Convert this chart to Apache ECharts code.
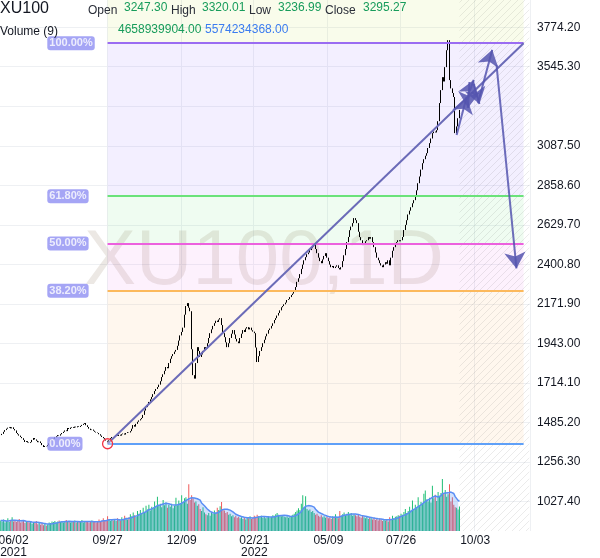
<!DOCTYPE html>
<html lang="en">
<head>
<meta charset="UTF-8">
<title>XU100, 1D</title>
<script src="https://cdn.jsdelivr.net/npm/echarts@6/dist/echarts.min.js"></script>
<style>
  html, body { margin: 0; padding: 0; background: #fff; }
  #chart { width: 600px; height: 558px; }
</style>
</head>
<body>
<div id="chart"></div>
<script>
// daily closes, bar 0 = first bar on the left
const closes = [
  1413, 1420, 1432, 1442, 1450, 1456, 1460, 1452, 1458, 1448,
  1440, 1425, 1418, 1410, 1402, 1395, 1385, 1373, 1378, 1370,
  1367, 1372, 1385, 1396, 1388, 1380, 1372, 1376, 1367, 1355,
  1344, 1350, 1348, 1356, 1365, 1378, 1386, 1392, 1400, 1406,
  1413, 1410, 1418, 1425, 1432, 1440, 1436, 1454, 1448, 1456,
  1460, 1455, 1462, 1458, 1464, 1460, 1466, 1472, 1478, 1483,
  1470, 1460, 1450, 1442, 1445, 1438, 1432, 1428, 1425, 1418,
  1410, 1402, 1395, 1388, 1380, 1370, 1385, 1395, 1402, 1398,
  1405, 1412, 1408, 1415, 1410, 1418, 1422, 1416, 1425, 1430,
  1428, 1436, 1450, 1471, 1462, 1478, 1490, 1498, 1505, 1512,
  1530, 1555, 1575, 1590, 1605, 1620, 1634, 1650, 1668, 1680,
  1691, 1705, 1725, 1749, 1765, 1785, 1807, 1800, 1830, 1855,
  1870, 1882, 1896, 1906, 1930, 1960, 1990, 2010, 2035, 2110,
  2160, 2177, 2150, 2130, 1910, 1760, 1740, 1830, 1922, 1900,
  1865, 1880, 1900, 1922, 1915, 1945, 1975, 2003, 2025, 2045,
  2061, 2075, 2068, 2082, 2090, 2050, 2003, 1980, 1950, 1922,
  1945, 1975, 2000, 2021, 1995, 1970, 1955, 1945, 1975, 2000,
  2021, 2010, 2030, 2038, 2025, 2035, 2020, 2012, 2003, 1920,
  1836, 1870, 1900, 1922, 1945, 1965, 1985, 2000, 2021, 2030,
  2045, 2060, 2079, 2090, 2105, 2120, 2135, 2153, 2160, 2170,
  2180, 2195, 2200, 2212, 2224, 2232, 2241, 2270, 2300, 2321,
  2345, 2375, 2400, 2425, 2443, 2460, 2470, 2484, 2495, 2505,
  2513, 2490, 2466, 2440, 2420, 2408, 2430, 2450, 2466, 2440,
  2420, 2400, 2385, 2392, 2380, 2388, 2396, 2380, 2372, 2385,
  2420, 2454, 2490, 2530, 2560, 2599, 2620, 2640, 2669, 2657,
  2640, 2590, 2559, 2541, 2513, 2525, 2535, 2541, 2559, 2550,
  2559, 2530, 2501, 2470, 2440, 2425, 2408, 2395, 2385, 2400,
  2414, 2405, 2425, 2396, 2440, 2480, 2501, 2524, 2530, 2541,
  2535, 2541, 2560, 2600, 2630, 2657, 2690, 2712, 2732, 2755,
  2773, 2800, 2830, 2871, 2910, 2950, 2987, 3010, 3030, 3045,
  3075, 3103, 3130, 3161, 3170, 3165, 3178, 3230, 3335, 3410,
  3485, 3460, 3543, 3641, 3699, 3468, 3420, 3393, 3370, 3161,
  3200, 3247.30, 3295.27
];

// daily volume, billions
const volumes = [
  2.0, 1.8, 2.2, 1.6, 1.9, 2.4, 1.7, 2.0, 2.6, 1.8,
  2.1, 1.7, 1.9, 2.3, 1.6, 1.8, 2.0, 1.5, 1.9, 1.7,
  1.6, 1.8, 1.4, 1.7, 1.5, 1.9, 1.3, 1.6, 1.2, 1.5,
  1.1, 1.4, 1.0, 1.3, 1.6, 1.5, 1.8, 1.7, 1.9, 1.6,
  1.8, 2.0, 1.7, 1.9, 1.6, 1.8, 2.1, 1.7, 1.9, 1.6,
  1.8, 1.7, 2.0, 1.6, 1.9, 1.8, 1.7, 2.1, 1.6, 1.8,
  1.7, 1.9, 1.6, 1.8, 2.0, 1.7, 1.8, 1.6, 1.9, 2.2,
  1.8, 2.0, 2.4, 1.9, 2.1, 2.8, 2.2, 1.9, 2.3, 2.0,
  2.1, 1.9, 2.4, 2.2, 2.0, 2.6, 2.3, 2.9, 2.5, 2.2,
  2.6, 3.2, 2.8, 3.5, 3.0, 2.7, 3.8, 3.3, 4.0, 3.4,
  4.4, 3.6, 4.8, 4.1, 5.0, 3.9, 4.6, 4.3, 5.6, 4.7,
  6.5, 4.8, 5.2, 4.5, 5.9, 4.9, 5.4, 4.4, 5.0, 4.6,
  5.2, 4.3, 4.8, 6.3, 4.9, 5.8, 5.3, 6.8, 5.5, 6.2,
  6.4, 5.2, 8.9, 5.9, 6.8, 6.2, 5.4, 5.6, 4.8, 5.1,
  4.2, 3.8, 4.5, 3.5, 3.2, 3.0, 3.4, 2.9, 3.6, 3.3,
  3.9, 3.5, 4.4, 4.0, 4.7, 5.5, 4.2, 3.9, 3.4, 3.6,
  3.1, 3.3, 2.8, 3.0, 2.6, 2.9, 2.5, 2.7, 2.4, 2.6,
  2.3, 2.5, 2.2, 2.6, 2.4, 2.8, 2.3, 2.5, 2.9, 2.7,
  3.1, 2.8, 2.6, 2.9, 2.5, 2.7, 2.4, 2.6, 2.8, 2.5,
  2.7, 3.0, 2.9, 3.2, 3.4, 3.1, 3.0, 2.8, 2.9, 2.7,
  2.6, 2.8, 2.5, 2.7, 2.9, 3.1, 3.3, 3.6, 3.9, 4.3,
  4.0, 5.2, 6.8, 4.5, 6.6, 4.2, 3.9, 4.1, 3.6, 3.8,
  3.4, 3.1, 3.3, 2.9, 2.7, 3.0, 2.6, 2.8, 2.5, 2.7,
  2.4, 2.6, 2.3, 2.8, 2.5, 3.2, 2.6, 2.4, 3.8, 2.9,
  3.2, 3.5, 3.0, 3.3, 3.6, 3.1, 3.4, 2.9, 3.2, 3.0,
  2.8, 3.1, 2.7, 2.5, 2.9, 2.6, 2.4, 2.7, 2.3, 2.5,
  2.4, 2.2, 2.5, 2.1, 2.3, 2.0, 2.4, 2.2, 1.9, 2.1,
  2.0, 2.3, 1.8, 2.6, 2.2, 2.9, 2.4, 2.7, 2.8, 3.0,
  2.9, 3.3, 3.1, 3.6, 4.2, 3.4, 3.8, 4.6, 3.9, 5.8,
  4.1, 5.0, 4.5, 6.4, 4.8, 5.5, 5.2, 7.1, 7.7, 6.0,
  5.6, 6.3, 5.4, 8.6, 6.2, 6.9, 5.7, 7.4, 6.6, 7.2,
  9.9, 7.1, 7.8, 6.5, 7.0, 8.9, 5.6, 6.4, 5.0, 4.5,
  4.4, 4.1, 4.66
];

const slotCount = 372; // bar slots on the time axis, future slots included
const dateLabels = { 9: '06/02\n2021', 75: '09/27', 127: '12/09', 178: '02/21\n2022', 230: '05/09', 281: '07/26', 333: '10/03' };
const gridDates = [75, 127, 178, 230, 281, 333];
const priceTicks = [1027.4, 1256.3, 1485.2, 1714.1, 1943.0, 2171.9, 2400.8, 2629.7, 2858.6, 3087.5, 3316.4, 3545.3, 3774.2];
const hiddenTick = 3316.4;
const priceMin = 857.8, priceMax = 3931.7;

// fibonacci retracement drawing
const fibLow = 1363, fibHigh = 3681.6;
const fibStart = 75, fibEnd = 367;
const fibLevels = [0, 0.382, 0.5, 0.618, 1];
const fibNames = ['0.00%', '38.20%', '50.00%', '61.80%', '100.00%'];

// arrow drawings: [from, to] as [bar, price]
const arrows = [
  [[319.6, 3150], [326.6, 3370]],
  [[327.3, 3354], [331.5, 3469]],
  [[329.4, 3457], [328.0, 3307]],
  [[332.2, 3446], [336.4, 3330]],
  [[335.0, 3336], [344.8, 3643]],
  [[347.6, 3556], [362.4, 2378]]
];

const lastBar = { open: 3247.30, high: 3320.01, low: 3236.99, close: 3295.27, volume: 4658939904, volumeMA: 5574234368 };

const font = '"Liberation Sans", Arial, sans-serif';
const upColor = '#1fbf75', downColor = '#ef5a5a';
const fibColors = ['#5fa0f8', '#fcb95c', '#ec61de', '#6be27a', '#9a6cf2'];
const bandColors = ['rgba(255,180,90,0.10)', 'rgba(230,80,230,0.08)', 'rgba(76,220,100,0.09)', 'rgba(124,77,255,0.09)'];

const cats = Array.from({ length: slotCount }, (_, i) => String(i));
const ohlc = closes.map((c, i) => {
  const o = i ? closes[i - 1] : c;
  return [o, c, Math.min(o, c), Math.max(o, c)];
});
const volBars = volumes.map((v, i) => ({
  value: v,
  itemStyle: { color: (i === 0 || closes[i] >= closes[i - 1]) ? upColor : downColor }
}));
const volMA = volumes.map((v, i) => {
  const win = volumes.slice(Math.max(0, i - 8), i + 1);
  return win.reduce((a, b) => a + b, 0) / win.length;
});
const fibPrice = l => fibLow + l * (fibHigh - fibLow);
const lastIdx = closes.length - 1;

// hatch tile for the empty future area
const tile = document.createElement('canvas');
tile.width = 7; tile.height = 7;
const tg = tile.getContext('2d');
tg.strokeStyle = 'rgba(0,0,0,0.08)';
tg.lineWidth = 1;
tg.beginPath();
tg.moveTo(0, 7); tg.lineTo(7, 0);
tg.moveTo(-1, 1); tg.lineTo(1, -1);
tg.moveTo(6, 8); tg.lineTo(8, 6);
tg.stroke();

const bandAreas = [];
for (let k = 0; k < fibLevels.length - 1; k++) {
  bandAreas.push([
    { coord: [fibStart, fibPrice(fibLevels[k + 1])], itemStyle: { color: bandColors[k] } },
    { coord: [fibEnd, fibPrice(fibLevels[k])] }
  ]);
}
bandAreas.push([
  { coord: [fibStart, priceMax], itemStyle: { color: 'rgba(200,230,60,0.10)' } },
  { coord: [fibEnd, fibPrice(1)] }
]);

const fibLines = fibLevels.map((l, k) => [
  { coord: [fibStart, fibPrice(l)], lineStyle: { color: fibColors[k], width: 2, type: 'solid' } },
  { coord: [fibEnd, fibPrice(l)] }
]);

const hdr = (text, x, y, size, color) => ({
  type: 'text', x: x, y: y, z: 20, silent: true,
  style: { text: text, fill: color, font: size + 'px ' + font, textVerticalAlign: 'middle', verticalAlign: 'middle' }
});

const myChart = echarts.init(document.getElementById('chart'));
const option = {
  animation: false,
  textStyle: { fontFamily: font },
  grid: [
    { left: 0, right: 70, top: 0, bottom: 27, outerBoundsMode: 'none' },
    { left: 0, right: 70, top: 431, bottom: 27, outerBoundsMode: 'none' }
  ],
  xAxis: [
    {
      type: 'category', gridIndex: 0, data: cats, boundaryGap: true,
      axisLine: { show: false }, axisTick: { show: false },
      axisLabel: {
        interval: i => dateLabels[i] !== undefined,
        formatter: (v, i) => dateLabels[i] || '',
        fontSize: 12, color: '#131722', margin: 4, lineHeight: 12
      },
      splitLine: { show: true, interval: i => gridDates.indexOf(i) >= 0, lineStyle: { color: '#eef0f3' } }
    },
    { type: 'category', gridIndex: 1, data: cats, boundaryGap: true, show: false }
  ],
  yAxis: [
    {
      type: 'value', gridIndex: 0, position: 'right', min: priceMin, max: priceMax,
      axisLine: { show: false },
      axisTick: { show: false, customValues: priceTicks },
      axisLabel: {
        customValues: priceTicks,
        formatter: v => Math.abs(v - hiddenTick) < 0.01 ? '' : v.toFixed(2),
        fontSize: 12, color: '#131722', margin: 7
      },
      splitLine: { show: true, lineStyle: { color: '#eef0f3' } }
    },
    { type: 'value', gridIndex: 1, min: 0, max: 19, show: false }
  ],
  graphic: [
    {
      type: 'text', x: 264, y: 262, z: 1, silent: true,
      style: {
        text: 'XU100,1D', fill: 'rgba(135,112,90,0.16)', font: '78px ' + font,
        textAlign: 'center', align: 'center', textVerticalAlign: 'middle', verticalAlign: 'middle'
      }
    },
    hdr('XU100', 0, 9, 16, '#131722'),
    hdr('Open', 88, 11, 12, '#2a2e39'),
    hdr(lastBar.open.toFixed(2), 124, 8, 12, '#179c5b'),
    hdr('High', 171, 11, 12, '#2a2e39'),
    hdr(lastBar.high.toFixed(2), 202, 8, 12, '#179c5b'),
    hdr('Low', 249, 11, 12, '#2a2e39'),
    hdr(lastBar.low.toFixed(2), 278, 8, 12, '#179c5b'),
    hdr('Close', 325, 11, 12, '#2a2e39'),
    hdr(lastBar.close.toFixed(2), 363, 8, 12, '#179c5b'),
    hdr('Volume (9)', 0, 32, 12, '#131722'),
    hdr(lastBar.volume.toFixed(2), 118, 30, 12, '#179c5b'),
    hdr(lastBar.volumeMA.toFixed(2), 205, 30, 12, '#3b7cf0')
  ],
  series: [
    {
      // fib bands
      type: 'line', xAxisIndex: 0, yAxisIndex: 0, data: [], z: 0, silent: true,
      markArea: { silent: true, data: bandAreas }
    },
    {
      // hatched future zone
      type: 'line', xAxisIndex: 0, yAxisIndex: 0, data: [], z: 1, silent: true,
      markArea: {
        silent: true,
        itemStyle: { color: { image: tile, repeat: 'repeat' } },
        data: [[{ coord: [lastIdx, priceMin] }, { coord: [slotCount - 1, priceMax] }]]
      }
    },
    {
      // fib level lines
      type: 'line', xAxisIndex: 0, yAxisIndex: 0, data: [], z: 3, silent: true,
      markLine: { silent: true, symbol: ['none', 'none'], label: { show: false }, data: fibLines }
    },
    {
      type: 'bar', name: 'Volume', xAxisIndex: 1, yAxisIndex: 1, data: volBars,
      barCategoryGap: '35%', z: 2, silent: true
    },
    {
      type: 'line', name: 'Volume MA', xAxisIndex: 1, yAxisIndex: 1, data: volMA,
      symbol: 'none', lineStyle: { color: '#5a8ef5', width: 1.5 },
      areaStyle: { color: 'rgba(66,133,244,0.35)' }, z: 3, silent: true
    },
    {
      type: 'candlestick', name: 'XU100', xAxisIndex: 0, yAxisIndex: 0, data: ohlc,
      barWidth: 0.4, z: 4, silent: true,
      itemStyle: { color: '#000', color0: '#000', borderColor: '#000', borderColor0: '#000', borderWidth: 1 },
      markLine: {
        silent: true, symbol: ['none', 'none'],
        lineStyle: { opacity: 0 },
        label: {
          position: 'end', distance: 2, formatter: lastBar.close.toFixed(2),
          backgroundColor: '#1cc276', color: '#fff', fontSize: 13, padding: [4, 9], borderRadius: 3
        },
        data: [{ yAxis: closes[lastIdx] }]
      }
    },
    {
      // trend line
      type: 'line', xAxisIndex: 0, yAxisIndex: 0,
      data: [[fibStart, fibLow], [fibEnd, fibHigh]],
      lineStyle: { color: '#6b6bb8', width: 2 },
      symbol: 'circle', symbolSize: 10,
      itemStyle: { color: 'rgba(255,255,255,0.35)', borderColor: '#f23645', borderWidth: 1.3 },
      z: 6, silent: true
    },
    {
      type: 'lines', coordinateSystem: 'cartesian2d', xAxisIndex: 0, yAxisIndex: 0,
      data: arrows.map(a => ({ coords: a })),
      symbol: ['none', 'arrow'], symbolSize: 16,
      lineStyle: { color: 'rgba(85,85,175,0.85)', width: 2, opacity: 1 },
      z: 7, silent: true
    },
    {
      // fib level tags
      type: 'scatter', xAxisIndex: 0, yAxisIndex: 0, symbolSize: 0, z: 8, silent: true,
      data: fibLevels.map((l, k) => ({ value: [32, fibPrice(l)], name: fibNames[k] })),
      label: {
        show: true, position: 'right', distance: 1, formatter: p => p.name,
        backgroundColor: '#8f8ff2', color: '#fff', fontWeight: 'bold', fontSize: 11,
        padding: [2, 2, 1, 2], borderRadius: 3
      }
    }
  ]
};
myChart.setOption(option);
</script>
</body>
</html>
